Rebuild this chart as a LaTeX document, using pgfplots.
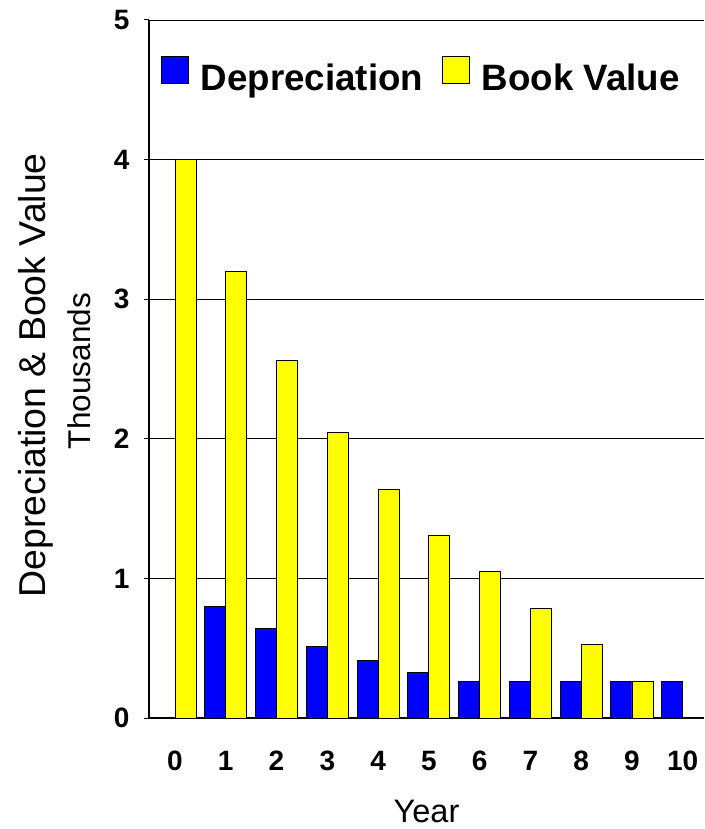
\documentclass[border=0pt]{standalone}
\usepackage{fontspec}
\setmainfont{Liberation Sans}
\usepackage{pgfplots}
\pgfplotsset{compat=1.18}
\definecolor{barblue}{RGB}{0,0,255}
\definecolor{baryellow}{RGB}{255,255,0}
\begin{document}
\begin{tikzpicture}
\begin{axis}[
  at={(0,0)}, anchor=south west,
  scale only axis, width=555pt, height=698pt,
  clip mode=individual,
  xmin=-0.512, xmax=10.42, ymin=0, ymax=5,
  axis lines*=left, axis line style={-},
  x axis line style={line width=2.2pt},
  y axis line style={line width=1.3pt},
  ytick={0,1,2,3,4,5}, xtick={0,...,10},
  ymajorgrids, grid style={black, line width=0.9pt},
  tick align=outside, major tick length=5pt,
  xtick style={draw=none}, ytick style={black, line width=1pt},
  ticklabel style={font=\fontsize{28}{28}\selectfont\bfseries},
  /pgf/number format/assume math mode=true,
  yticklabel style={xshift=-11pt},
  xticklabel style={anchor=base, yshift=-47pt},
  xlabel={Year},
  xlabel style={at={(axis description cs:0.5,0)}, anchor=base, yshift=-104pt, font=\fontsize{32.5}{32.5}\selectfont},
  ylabel={Depreciation \& Book Value},
  ylabel style={at={(axis description cs:-0.1856,0.491)}, anchor=base, font=\fontsize{37.4}{37.4}\selectfont},
  ybar, bar width=0.414,
  legend columns=2,
  legend cell align=left,
  legend style={draw=none, fill=none, at={(axis description cs:0.0216,0.9484)}, anchor=north west,
    inner sep=0pt, outer sep=0pt, font=\fontsize{36.7}{36.7}\selectfont\bfseries,
    nodes={inner sep=0pt}, column sep=12pt,
    /tikz/every even column/.append style={column sep=19pt}},
  legend image code/.code={\draw[#1, draw=black, line width=0.8pt] (0pt,-5.5pt) rectangle (27pt,21.5pt);},
]
\addplot[fill=barblue, draw=black, line width=0.8pt, bar shift=-0.207] coordinates {
  (0,0) (1,0.800) (2,0.640) (3,0.512) (4,0.410) (5,0.328) (6,0.262) (7,0.262) (8,0.262) (9,0.262) (10,0.262)};
\addplot[fill=baryellow, draw=black, line width=0.8pt, bar shift=0.207] coordinates {
  (0,4.000) (1,3.200) (2,2.560) (3,2.048) (4,1.638) (5,1.311) (6,1.049) (7,0.786) (8,0.524) (9,0.262) (10,0)};
\legend{Depreciation, Book Value}
\node[rotate=90, anchor=base, font=\fontsize{31.5}{31.5}\selectfont] at (axis description cs:-0.1063,0.497) {Thousands};
\end{axis}
\pgfresetboundingbox
\path[use as bounding box] (-149pt,-111pt) rectangle (555pt,718pt);
\end{tikzpicture}
\end{document}
